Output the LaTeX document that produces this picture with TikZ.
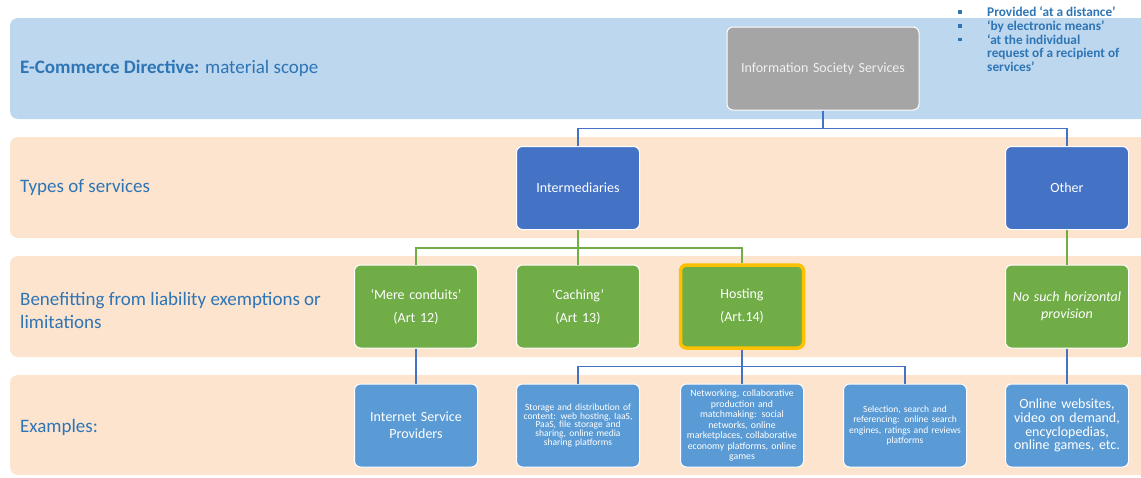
\documentclass[tikz,border=0pt]{standalone}
\usepackage{fontspec}
\setmainfont{Carlito}
\usetikzlibrary{positioning}
\definecolor{bandblue}{RGB}{189,215,238}
\definecolor{bandpeach}{RGB}{252,228,206}
\definecolor{issgray}{RGB}{165,165,165}
\definecolor{darkblue}{RGB}{68,114,196}
\definecolor{midblue}{RGB}{91,155,213}
\definecolor{leafgreen}{RGB}{112,173,71}
\definecolor{gold}{RGB}{255,192,0}
\definecolor{labelblue}{RGB}{46,117,182}
\newcommand{\sqbullet}{\rule[2.8pt]{3.8pt}{3.8pt}}

\begin{document}
\begin{tikzpicture}[x=1pt,y=-1pt,
  box/.style={rounded corners=6pt,draw=white,line width=1pt,minimum width=123pt,minimum height=83pt,
    text width=115pt,align=center,text=white,inner sep=2pt,font=\fontsize{14}{17}\selectfont},
  typebox/.style={box,fill=darkblue},
  exempt/.style={box,fill=leafgreen},
  example/.style={box,fill=midblue},
  rowlabel/.style={anchor=west,text=labelblue,font=\fontsize{19}{23}\selectfont,align=left,inner sep=0pt},
  bluelink/.style={darkblue,line width=1.3pt},
  greenlink/.style={leafgreen,line width=1.3pt}]
\useasboundingbox (0,0) rectangle (1141,477);
% Bands
\fill[bandblue,rounded corners=8pt] (10,18) rectangle (1160,119);
\fill[bandpeach,rounded corners=8pt] (10,137) rectangle (1160,238);
\fill[bandpeach,rounded corners=8pt] (10,256) rectangle (1160,357);
\fill[bandpeach,rounded corners=8pt] (10,375) rectangle (1160,475);
% Row labels
\node[rowlabel] (scope) at (20,68) {\textbf{E-Commerce Directive:} material scope};
\node[rowlabel] (types) at (20,187) {Types of services};
\node[rowlabel] (benefit) at (20,310.5) {Benefitting from liability exemptions or\\limitations};
\node[rowlabel] (examples) at (20,427) {Examples:};
% Scope
\node[box,fill=issgray,minimum width=192pt,text width=185pt,text=white!94!black] (iss) at (823,68.5) {Information Society Services};
\node[anchor=north west,inner sep=0pt,text=labelblue,font=\bfseries\fontsize{13.3}{13.3}\selectfont] (crit) at (958,6.5)
  {\begin{tabular}{@{}p{29pt}@{}l@{}}
   \sqbullet & Provided `at a distance'\\
   \sqbullet & `by electronic means'\\
   \sqbullet & `at the individual\\
             & request of a recipient of\\
             & services'
   \end{tabular}};
% Types of services
\node[typebox] (inter) at (578,188) {Intermediaries};
\node[typebox] (other) at (1067,188) {Other};
% Exemptions
\node[exempt] (mere) at (416,306.5) {`Mere conduits'\\[6pt](Art 12)};
\node[exempt] (cache) at (578,306.5) {`Caching'\\[6pt](Art 13)};
\node[exempt,draw=gold,line width=3.5pt] (host) at (742,306.5) {Hosting\\[6pt](Art.14)};
\node[exempt,font=\itshape\fontsize{14}{17}\selectfont] (nohor) at (1067,306.5) {No such horizontal\\provision};
% Examples
\node[example] (isp) at (416,425.5) {Internet Service\\Providers};
\node[example,font=\fontsize{9.5}{8.8}\selectfont] (store) at (578,425.5)
  {Storage and distribution of\\content: web hosting, IaaS,\\PaaS, file storage and\\sharing, online media\\sharing platforms};
\node[example,font=\fontsize{9.8}{10.5}\selectfont] (network) at (742,425.5)
  {Networking, collaborative\\production and\\matchmaking: social\\networks, online\\marketplaces, collaborative\\economy platforms, online\\games};
\node[example,font=\fontsize{9.5}{10.5}\selectfont] (search) at (905,425.5)
  {Selection, search and\\referencing: online search\\engines, ratings and reviews\\platforms};
\node[example,font=\fontsize{14}{13.8}\selectfont] (sites) at (1067,425.5)
  {Online websites,\\video on demand,\\encyclopedias,\\online games, etc.};
% Connectors
\draw[bluelink] (iss.south) -- ++(0,18) -| (inter.north);
\draw[bluelink] (iss.south) -- ++(0,18) -| (other.north);
\draw[greenlink] (inter.south) -- ++(0,18) -| (mere.north);
\draw[greenlink] (inter.south) -- ++(0,18) -| (host.north);
\draw[greenlink] (inter) -- (cache);
\draw[greenlink] (other) -- (nohor);
\draw[bluelink] (mere) -- (isp);
\draw[bluelink] (host.south) -- ++(0,17) -| (store.north);
\draw[bluelink] (host.south) -- ++(0,17) -| (network.north);
\draw[bluelink] (host.south) -- ++(0,17) -| (search.north);
\draw[bluelink] (nohor) -- (sites);
\end{tikzpicture}
\end{document}
